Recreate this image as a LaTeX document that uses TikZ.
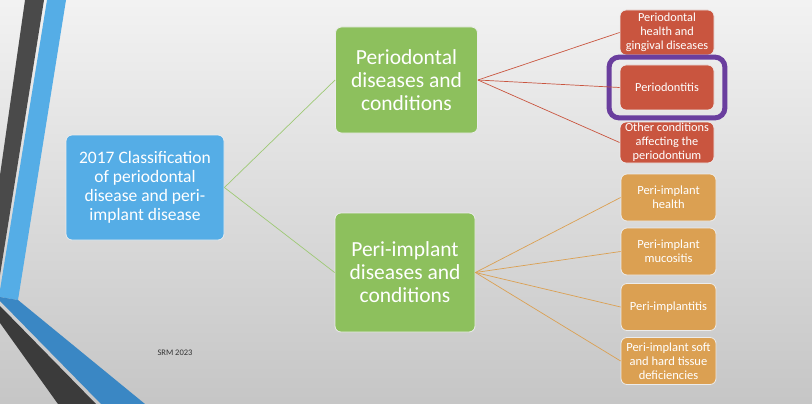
\documentclass[tikz,border=0pt]{standalone}
\usepackage{fontspec}
\setmainfont{Carlito}
\usepackage{xcolor}
\usetikzlibrary{fit}
\definecolor{rootblue}{HTML}{55ADE6}
\definecolor{bandblue}{HTML}{3A87C4}
\definecolor{banddark}{HTML}{4A4A4A}
\definecolor{groupgreen}{HTML}{8DC05D}
\definecolor{perored}{HTML}{C9553F}
\definecolor{implorange}{HTML}{DBA052}
\definecolor{framepurple}{HTML}{6A3E9E}

\begin{document}
\begin{tikzpicture}[x=1pt, y=-1pt,
  box/.style={rounded corners=6pt, draw=white!85!gray, line width=0.8pt,
    text=white, align=center, inner sep=0pt},
  rootbox/.style={box, fill=rootblue, minimum width=158pt, minimum height=105pt,
    font=\fontsize{17.5}{19}\selectfont},
  groupbox/.style={box, fill=groupgreen, minimum width=142pt,
    font=\fontsize{21.5}{23}\selectfont},
  redbox/.style={box, fill=perored, minimum width=94pt,
    font=\fontsize{12.3}{14}\selectfont},
  orangebox/.style={box, fill=implorange, minimum width=95pt, minimum height=47pt,
    font=\fontsize{12.5}{14}\selectfont},
  link/.style={line width=0.7pt}]
\useasboundingbox (0,0) rectangle (812,404);
% slide background
\shade[top color=gray!10, bottom color=gray!45!white] (0,0) rectangle (812,404);
% left side bands
\fill[banddark] (25,0) -- (44,0) -- (0,275) -- (0,175) -- cycle;
\fill[rootblue] (47,0) -- (66,0) -- (18,300) -- (0,297) -- (0,290) -- cycle;
\fill[banddark!80!black] (0,306) -- (96,404) -- (58,404) -- (0,323) -- cycle;
\fill[bandblue] (0,297) -- (18,300) -- (145,404) -- (101,404) -- (0,301) -- cycle;

% boxes
\node[rootbox] (root) at (145,187.5) {2017 Classification\\of periodontal\\disease and peri-\\implant disease};
\node[groupbox, minimum height=106pt] (perio) at (406.5,80) {Periodontal\\diseases and\\conditions};
\node[groupbox, minimum height=119pt, minimum width=140pt] (impl) at (405,272.5) {Peri-implant\\diseases and\\conditions};

\node[redbox, minimum height=45pt] (health) at (667,32.5) {Periodontal\\health and\\gingival diseases};
\node[redbox, minimum height=45pt] (itis) at (667,87.5) {Periodontitis};
\node[redbox, minimum height=41pt] (other) at (667,142.5) {Other conditions\\affecting the\\periodontium};

\node[orangebox] (ihealth) at (668.5,197.5) {Peri-implant\\health};
\node[orangebox] (muco) at (668.5,251.5) {Peri-implant\\mucositis};
\node[orangebox] (plant) at (668.5,307) {Peri-implantitis};
\node[orangebox] (defic) at (668.5,361) {Peri-implant soft\\and hard tissue\\deficiencies};

% highlight
\node[draw=framepurple, line width=5pt, rounded corners=10pt, inner xsep=10.5pt,
  inner ysep=7.5pt, fit=(itis)] (mark) {};

% connectors
\draw[link, groupgreen!85!white] (root.east) -- (perio.west);
\draw[link, groupgreen!85!white] (root.east) -- (impl.west);
\foreach \t in {health,itis,other}{
  \draw[link, perored] (perio.east) -- (\t.west);
}
\foreach \t in {ihealth,muco,plant,defic}{
  \draw[link, implorange] (impl.east) -- (\t.west);
}

\node[font=\fontsize{8.5}{10}\selectfont, text=black!80] (srm) at (175,353) {SRM 2023};
\end{tikzpicture}
\end{document}
